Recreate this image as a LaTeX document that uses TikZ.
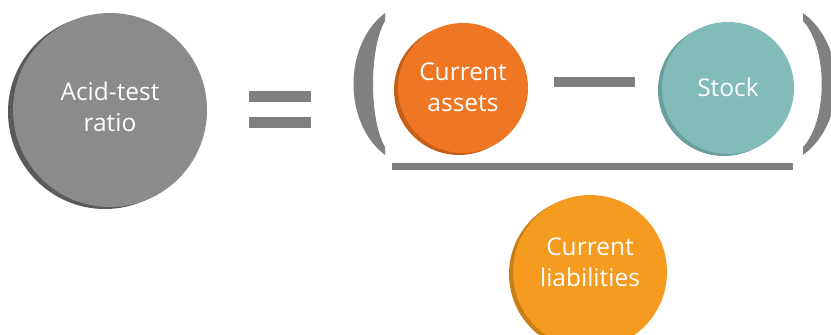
\documentclass[tikz,border=0pt]{standalone}
\usepackage{fontspec}
\setmainfont{Open Sans}
\definecolor{ratiofill}{HTML}{8B8B8B}
\definecolor{ratioshade}{HTML}{5A5A5A}
\definecolor{assetfill}{HTML}{EF7622}
\definecolor{assetshade}{HTML}{C55F17}
\definecolor{stockfill}{HTML}{83BBB9}
\definecolor{stockshade}{HTML}{6A9F9D}
\definecolor{liabfill}{HTML}{F49B20}
\definecolor{liabshade}{HTML}{C97E17}
\definecolor{barcol}{HTML}{7F8080}
\begin{document}
\begin{tikzpicture}[x=1pt,y=-1pt,
  ball/.style={circle, inner sep=0pt, align=center, text=white,
    font=\fontsize{24.5}{31}\selectfont},
  bar/.style={fill=barcol}]
\useasboundingbox (0,0) rectangle (831,335);
\begin{scope}
\clip (0,0) rectangle (831,335);
% shadows
\fill[ratioshade] (105,112) circle (97pt);
\fill[assetshade] (459,90) circle (65pt);
\fill[stockshade] (724,90) circle (66pt);
\fill[liabshade] (586,274) circle (77pt);
% circles
\node[ball, fill=ratiofill, minimum size=194pt] (ratio) at (110,110) {};
\node[ball, fill=assetfill, minimum size=130pt] (assets) at (463,88) {};
\node[ball, fill=stockfill, minimum size=132pt] (stock) at (728,88) {};
\node[ball, fill=liabfill, minimum size=154pt] (liab) at (590,272) {};
% parentheses
\fill[bar] (385,13) .. controls (343,45) and (343,123) .. (385,155)
  -- (385,147) .. controls (369,120) and (369,48) .. (385,21) -- cycle;
\fill[bar] (803,13) .. controls (847,45) and (847,123) .. (803,155)
  -- (803,147) .. controls (828,120) and (828,48) .. (803,21) -- cycle;
\end{scope}
% labels
\node[ball] (ratiotxt) at (110,107) {Acid-test\\ratio};
\node[ball] (assetstxt) at (463,87) {Current\\assets};
\node[ball] (stocktxt) at (728,87) {Stock};
\node[ball] (liabtxt) at (590,262) {Current\\liabilities};
% equals, minus, fraction bar
\fill[bar] (249,91) rectangle (311,102);
\fill[bar] (249,117) rectangle (311,128);
\fill[bar] (554,77) rectangle (635,87);
\fill[bar] (392,163) rectangle (793,170);
\end{tikzpicture}
\end{document}
